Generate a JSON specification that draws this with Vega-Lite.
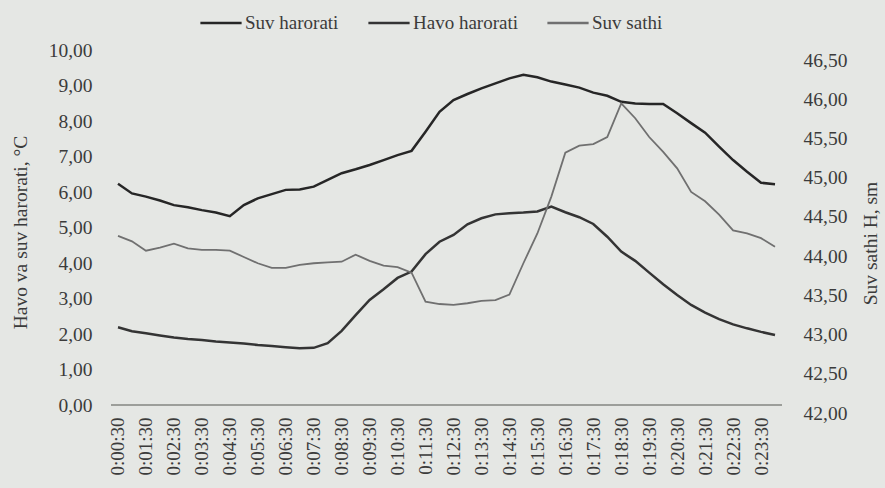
{
  "$schema": "https://vega.github.io/schema/vega-lite/v6.json",
  "width": 671,
  "height": 363,
  "autosize": {"type": "none"},
  "padding": {"left": 111, "top": 50, "right": 103, "bottom": 75},
  "background": "#e5e7e4",
  "config": {
    "view": {"stroke": null},
    "font": "Liberation Serif",
    "axis": {
      "labelFont": "Liberation Serif",
      "titleFont": "Liberation Serif",
      "labelColor": "#3b3b3b",
      "titleColor": "#3b3b3b",
      "labelFontSize": 19.5,
      "titleFontSize": 19.5,
      "titleFontWeight": "normal",
      "grid": false,
      "domain": false,
      "ticks": false
    },
    "legend": {
      "labelFont": "Liberation Serif",
      "labelFontSize": 19,
      "labelColor": "#3b3b3b"
    }
  },
  "data": {
    "values": [
      {"t": "0:00:30", "Suv harorati": 6.23, "Havo harorati": 2.19, "Suv sathi": 44.26},
      {"t": "0:01:00", "Suv harorati": 5.96, "Havo harorati": 2.08, "Suv sathi": 44.19},
      {"t": "0:01:30", "Suv harorati": 5.87, "Havo harorati": 2.02, "Suv sathi": 44.07},
      {"t": "0:02:00", "Suv harorati": 5.76, "Havo harorati": 1.96, "Suv sathi": 44.11},
      {"t": "0:02:30", "Suv harorati": 5.63, "Havo harorati": 1.90, "Suv sathi": 44.16},
      {"t": "0:03:00", "Suv harorati": 5.57, "Havo harorati": 1.86, "Suv sathi": 44.10},
      {"t": "0:03:30", "Suv harorati": 5.49, "Havo harorati": 1.83, "Suv sathi": 44.08},
      {"t": "0:04:00", "Suv harorati": 5.42, "Havo harorati": 1.79, "Suv sathi": 44.08},
      {"t": "0:04:30", "Suv harorati": 5.32, "Havo harorati": 1.76, "Suv sathi": 44.07},
      {"t": "0:05:00", "Suv harorati": 5.63, "Havo harorati": 1.73, "Suv sathi": 43.99},
      {"t": "0:05:30", "Suv harorati": 5.82, "Havo harorati": 1.69, "Suv sathi": 43.91},
      {"t": "0:06:00", "Suv harorati": 5.94, "Havo harorati": 1.66, "Suv sathi": 43.85},
      {"t": "0:06:30", "Suv harorati": 6.06, "Havo harorati": 1.63, "Suv sathi": 43.85},
      {"t": "0:07:00", "Suv harorati": 6.07, "Havo harorati": 1.60, "Suv sathi": 43.89},
      {"t": "0:07:30", "Suv harorati": 6.15, "Havo harorati": 1.61, "Suv sathi": 43.91},
      {"t": "0:08:00", "Suv harorati": 6.34, "Havo harorati": 1.74, "Suv sathi": 43.92},
      {"t": "0:08:30", "Suv harorati": 6.53, "Havo harorati": 2.09, "Suv sathi": 43.93},
      {"t": "0:09:00", "Suv harorati": 6.64, "Havo harorati": 2.53, "Suv sathi": 44.02},
      {"t": "0:09:30", "Suv harorati": 6.76, "Havo harorati": 2.96, "Suv sathi": 43.94},
      {"t": "0:10:00", "Suv harorati": 6.90, "Havo harorati": 3.26, "Suv sathi": 43.88},
      {"t": "0:10:30", "Suv harorati": 7.04, "Havo harorati": 3.58, "Suv sathi": 43.86},
      {"t": "0:11:00", "Suv harorati": 7.16, "Havo harorati": 3.76, "Suv sathi": 43.79},
      {"t": "0:11:30", "Suv harorati": 7.70, "Havo harorati": 4.25, "Suv sathi": 43.42},
      {"t": "0:12:00", "Suv harorati": 8.26, "Havo harorati": 4.60, "Suv sathi": 43.39},
      {"t": "0:12:30", "Suv harorati": 8.59, "Havo harorati": 4.79, "Suv sathi": 43.38},
      {"t": "0:13:00", "Suv harorati": 8.76, "Havo harorati": 5.09, "Suv sathi": 43.40},
      {"t": "0:13:30", "Suv harorati": 8.92, "Havo harorati": 5.26, "Suv sathi": 43.43},
      {"t": "0:14:00", "Suv harorati": 9.06, "Havo harorati": 5.37, "Suv sathi": 43.44},
      {"t": "0:14:30", "Suv harorati": 9.20, "Havo harorati": 5.40, "Suv sathi": 43.51},
      {"t": "0:15:00", "Suv harorati": 9.30, "Havo harorati": 5.42, "Suv sathi": 43.91},
      {"t": "0:15:30", "Suv harorati": 9.23, "Havo harorati": 5.45, "Suv sathi": 44.29},
      {"t": "0:16:00", "Suv harorati": 9.11, "Havo harorati": 5.59, "Suv sathi": 44.76},
      {"t": "0:16:30", "Suv harorati": 9.03, "Havo harorati": 5.43, "Suv sathi": 45.32},
      {"t": "0:17:00", "Suv harorati": 8.94, "Havo harorati": 5.29, "Suv sathi": 45.41},
      {"t": "0:17:30", "Suv harorati": 8.80, "Havo harorati": 5.10, "Suv sathi": 45.43},
      {"t": "0:18:00", "Suv harorati": 8.71, "Havo harorati": 4.74, "Suv sathi": 45.52},
      {"t": "0:18:30", "Suv harorati": 8.54, "Havo harorati": 4.32, "Suv sathi": 45.95},
      {"t": "0:19:00", "Suv harorati": 8.49, "Havo harorati": 4.06, "Suv sathi": 45.76},
      {"t": "0:19:30", "Suv harorati": 8.48, "Havo harorati": 3.73, "Suv sathi": 45.52},
      {"t": "0:20:00", "Suv harorati": 8.48, "Havo harorati": 3.40, "Suv sathi": 45.33},
      {"t": "0:20:30", "Suv harorati": 8.22, "Havo harorati": 3.10, "Suv sathi": 45.12},
      {"t": "0:21:00", "Suv harorati": 7.94, "Havo harorati": 2.82, "Suv sathi": 44.82},
      {"t": "0:21:30", "Suv harorati": 7.67, "Havo harorati": 2.60, "Suv sathi": 44.70},
      {"t": "0:22:00", "Suv harorati": 7.28, "Havo harorati": 2.42, "Suv sathi": 44.53},
      {"t": "0:22:30", "Suv harorati": 6.90, "Havo harorati": 2.27, "Suv sathi": 44.33},
      {"t": "0:23:00", "Suv harorati": 6.57, "Havo harorati": 2.16, "Suv sathi": 44.29},
      {"t": "0:23:30", "Suv harorati": 6.26, "Havo harorati": 2.06, "Suv sathi": 44.23},
      {"t": "0:24:00", "Suv harorati": 6.22, "Havo harorati": 1.97, "Suv sathi": 44.12}
    ]
  },
  "layer": [
    {
      "mark": {"type": "rule", "color": "#9b9d9a", "strokeWidth": 1.2},
      "encoding": {
        "y": {"datum": 0, "type": "quantitative", "scale": {"domain": [-0.225, 10], "nice": false, "zero": false}, "axis": null}
      }
    },
    {
      "transform": [{"fold": ["Suv harorati", "Havo harorati"], "as": ["series", "value"]}],
      "mark": {"type": "line", "strokeWidth": 2.5},
      "encoding": {
        "x": {
          "field": "t", "type": "ordinal", "sort": null,
          "scale": {"type": "point", "padding": 0.5},
          "axis": {
            "title": null, "labelAngle": 270, "labelPadding": 4, "labelFontSize": 19,
            "values": ["0:00:30","0:01:30","0:02:30","0:03:30","0:04:30","0:05:30","0:06:30","0:07:30","0:08:30","0:09:30","0:10:30","0:11:30","0:12:30","0:13:30","0:14:30","0:15:30","0:16:30","0:17:30","0:18:30","0:19:30","0:20:30","0:21:30","0:22:30","0:23:30"]
          }
        },
        "y": {
          "field": "value", "type": "quantitative",
          "scale": {"domain": [-0.225, 10], "nice": false, "zero": false},
          "axis": {
            "orient": "left", "title": "Havo va suv harorati, °C",
            "values": [0,1,2,3,4,5,6,7,8,9,10],
            "labelExpr": "replace(format(datum.value, '.2f'), '.', ',')",
            "labelPadding": 19, "titleX": -91, "titleY": 182, "titleAngle": 270, "titleBaseline": "middle", "titleAlign": "center"
          }
        },
        "color": {
          "field": "series", "type": "nominal",
          "scale": {"domain": ["Suv harorati", "Havo harorati", "Suv sathi"], "range": ["#262626", "#343434", "#707070"]},
          "legend": {
            "title": null, "orient": "none", "legendX": 88, "legendY": -49,
            "direction": "horizontal", "symbolType": "stroke", "symbolSize": 1700,
            "symbolStrokeWidth": 2.5, "labelOffset": 2, "columnPadding": 24
          }
        }
      }
    },
    {
      "mark": {"type": "line", "strokeWidth": 1.8},
      "encoding": {
        "x": {"field": "t", "type": "ordinal", "sort": null, "scale": {"type": "point", "padding": 0.5}},
        "y": {
          "field": "Suv sathi", "type": "quantitative",
          "scale": {"domain": [42, 46.63], "nice": false, "zero": false},
          "axis": {
            "orient": "right", "title": "Suv sathi H, sm", "titleAngle": 270,
            "values": [42,42.5,43,43.5,44,44.5,45,45.5,46,46.5],
            "labelExpr": "replace(format(datum.value, '.2f'), '.', ',')",
            "labelPadding": 21, "titleX": 88, "titleY": 193, "titleBaseline": "middle", "titleAlign": "center"
          }
        },
        "color": {"datum": "Suv sathi"}
      }
    }
  ],
  "resolve": {"scale": {"y": "independent"}}
}
